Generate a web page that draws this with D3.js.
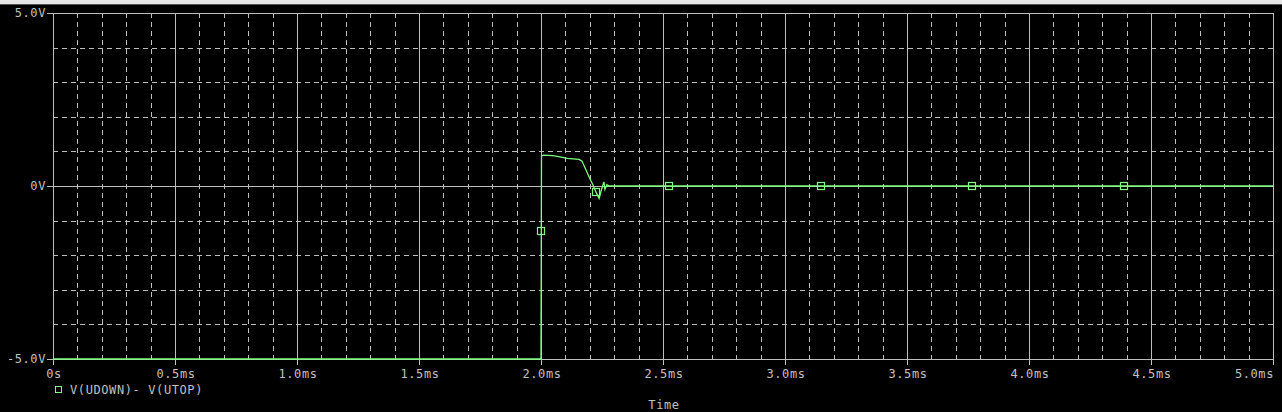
<!DOCTYPE html>
<html><head><meta charset="utf-8">
<script src="https://cdn.jsdelivr.net/npm/d3@7"></script>
<style>
html,body{margin:0;padding:0;background:#000;overflow:hidden}
svg{display:block}
text{font-family:"DejaVu Sans Mono",monospace;font-size:12px;fill:#c0c0c0;letter-spacing:0.6px}
</style></head>
<body>
<svg id="c" width="1282" height="412"></svg>
<script>
// time in ms, value in V
const traceTime  = [0, 2.0, 2.002, 2.01, 2.049, 2.078, 2.107, 2.156, 2.168, 2.201, 2.213, 2.225, 2.238, 2.250, 2.258, 2.262, 2.270, 2.280, 5.0];
const traceValue = [-5, -5, 0.87, 0.89, 0.876, 0.84, 0.80, 0.77, 0.72, 0.20, 0.03, -0.17, -0.36, -0.05, 0.12, -0.10, 0.04, 0, 0];
const markerTime  = [2.0, 2.225, 2.525, 3.148, 3.766, 4.389];
const markerValue = [-1.3, -0.17, 0, 0, 0, 0];
const xTickLabels = ["0s","0.5ms","1.0ms","1.5ms","2.0ms","2.5ms","3.0ms","3.5ms","4.0ms","4.5ms","5.0ms"];
const xTickValues = [0,0.5,1.0,1.5,2.0,2.5,3.0,3.5,4.0,4.5,5.0];
const yTickValues = [5, 0, -5];
const yTickLabels = ["5.0V","0V","-5.0V"];
const seriesName = "V(UDOWN)- V(UTOP)";
const xLabel = "Time";

const svg = d3.select("#c");
const W = 1282, H = 412;
const L = 53, R = 1273, T = 13, B = 359;
const GRID = "#bdbdbd", GREEN = "#7fff7f";

// top window strip
svg.append("rect").attr("x",0).attr("y",0).attr("width",W).attr("height",4).attr("fill","#e6e6e6");
svg.append("rect").attr("x",0).attr("y",4).attr("width",W).attr("height",1).attr("fill","#555");

const x = d3.scaleLinear().domain([0,5]).range([L,R]);
const y = d3.scaleLinear().domain([-5,5]).range([B,T]);

const g = svg.append("g");
// minor dashed verticals
const minorX = d3.range(0,50).map(i=>i/10).filter(v=>Math.abs(v*2-Math.round(v*2))>1e-6);
g.selectAll(".mx").data(minorX).enter().append("line")
 .attr("x1",d=>Math.round(x(d))+0.5).attr("x2",d=>Math.round(x(d))+0.5)
 .attr("y1",T).attr("y2",B).attr("stroke",GRID).attr("stroke-dasharray","5,4");
// minor dashed horizontals
const minorY = d3.range(-4,5).filter(v=>v!==0);
g.selectAll(".my").data(minorY).enter().append("line")
 .attr("y1",d=>Math.round(y(d))+0.5).attr("y2",d=>Math.round(y(d))+0.5)
 .attr("x1",L).attr("x2",R).attr("stroke",GRID).attr("stroke-dasharray","5,4");
// major verticals
g.selectAll(".Mx").data(xTickValues).enter().append("line")
 .attr("x1",d=>Math.round(x(d))+0.5).attr("x2",d=>Math.round(x(d))+0.5)
 .attr("y1",T).attr("y2",B+6).attr("stroke",GRID);
// major horizontals (0 line, top and bottom borders)
g.selectAll(".My").data(yTickValues).enter().append("line")
 .attr("y1",d=>Math.round(y(d))+0.5).attr("y2",d=>Math.round(y(d))+0.5)
 .attr("x1",L-6).attr("x2",R).attr("stroke",GRID);

// trace
const line = d3.line().x((d,i)=>x(traceTime[i])).y((d,i)=>y(traceValue[i]));
svg.append("path").datum(traceValue).attr("d",line)
 .attr("fill","none").attr("stroke",GREEN).attr("stroke-width",1.3);

// markers
svg.selectAll(".mk").data(markerTime).enter().append("rect")
 .attr("x",(d)=>Math.round(x(d))-3.5).attr("y",(d,i)=>Math.round(y(markerValue[i]))-3.5)
 .attr("width",7).attr("height",7).attr("fill","none").attr("stroke",GREEN).attr("stroke-width",1.2);

// y labels
svg.selectAll(".yl").data(yTickValues).enter().append("text")
 .attr("x",46).attr("y",d=>y(d)).attr("dy","0.35em").attr("text-anchor","end")
 .text((d,i)=>yTickLabels[i]);
// x labels
const nX = xTickValues.length;
svg.selectAll(".xl").data(xTickValues).enter().append("text")
 .attr("x",(d,i)=> i===nX-1 ? R+1 : x(d)+1).attr("y",378)
 .attr("text-anchor",(d,i)=> i===nX-1 ? "end" : "middle")
 .text((d,i)=>xTickLabels[i]);

// legend
svg.append("rect").attr("x",55.5).attr("y",386.5).attr("width",6).attr("height",6)
 .attr("fill","none").attr("stroke",GREEN).attr("stroke-width",1);
svg.append("text").attr("x",70).attr("y",394).text(seriesName);
svg.append("text").attr("x",664).attr("y",409).attr("text-anchor","middle").text(xLabel);
</script>
</body></html>
